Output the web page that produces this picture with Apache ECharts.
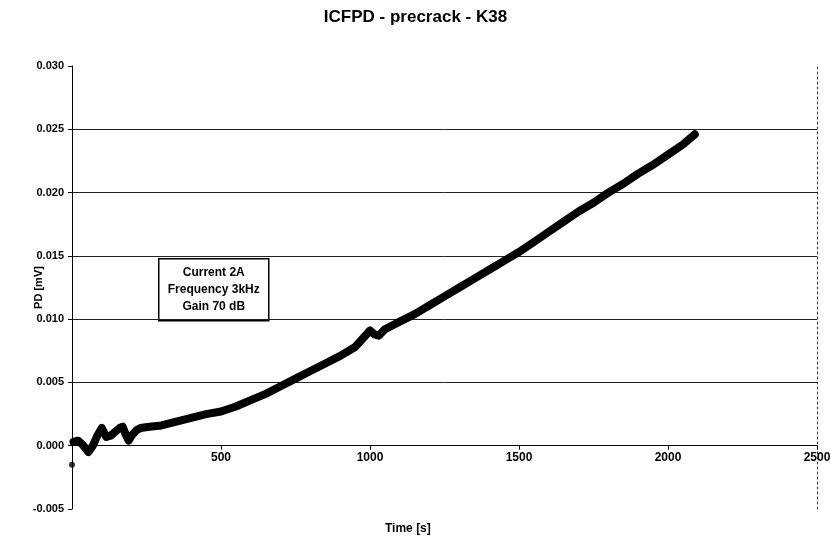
<!DOCTYPE html>
<html>
<head>
<meta charset="utf-8">
<script src="https://cdn.jsdelivr.net/npm/echarts@6/dist/echarts.min.js"></script>
<style>
  html, body { margin: 0; padding: 0; background: #fff; }
  #chart { width: 831px; height: 543px; }
</style>
</head>
<body>
<div id="chart"></div>
<script>
// Potential-drop record during precracking (time in s, PD in mV)
const firstTime = 0;
const firstPd = -0.0015;

const times = [5, 20, 35, 55, 70, 85, 100, 115, 130, 145, 160, 170, 180, 190, 200, 215, 230,
  260, 300, 350, 400, 450, 500, 550, 600, 650, 700, 750, 800, 850, 900, 950,
  1000, 1015, 1030, 1050, 1100, 1150, 1200, 1250, 1300, 1350, 1400, 1450, 1500,
  1550, 1600, 1650, 1700, 1750, 1800, 1850, 1900, 1950, 2000, 2050, 2090];
const pd = [0.0003, 0.0004, 0.0001, -0.0005, 0.0000, 0.0008, 0.0014, 0.0007, 0.0008, 0.0011, 0.0014, 0.0015, 0.0009, 0.0004, 0.0008, 0.0012, 0.0014,
  0.0015, 0.0016, 0.0019, 0.0022, 0.0025, 0.0027, 0.0031, 0.0036, 0.0041, 0.0047, 0.0053, 0.0059, 0.0065, 0.0071, 0.0078,
  0.0091, 0.0088, 0.0087, 0.0092, 0.0098, 0.0104, 0.0111, 0.0118, 0.0125, 0.0132, 0.0139, 0.0146, 0.0153,
  0.0161, 0.0169, 0.0177, 0.0185, 0.0192, 0.0200, 0.0207, 0.0215, 0.0222, 0.0230, 0.0238, 0.0246];

const xTicks = { min: 0, max: 2500, step: 500 };
const yTicks = { min: -0.005, max: 0.030, step: 0.005 };

const titleText = 'ICFPD - precrack - K38';
const xName = 'Time [s]';
const yName = 'PD [mV]';
const noteLines = ['Current 2A', 'Frequency 3kHz', 'Gain 70 dB'];

const font = 'Liberation Sans, Arial, sans-serif';

// plot area, in px
const gridBox = { left: 72, right: 14, top: 66, bottom: 34 };
const plotHeight = 543 - gridBox.top - gridBox.bottom;
// the time axis sits on PD = 0, raised from the bottom edge of the plot
const zeroRaise = plotHeight * (0 - yTicks.min) / (yTicks.max - yTicks.min);

const chart = echarts.init(document.getElementById('chart'));

chart.setOption({
  animation: false,
  backgroundColor: '#fff',
  title: {
    text: titleText,
    left: 'center',
    top: 4,
    textStyle: { fontFamily: font, fontSize: 17, fontWeight: 'bold', color: '#000' }
  },
  grid: Object.assign({ outerBoundsMode: 'none', containLabel: false }, gridBox),
  xAxis: {
    type: 'value',
    min: xTicks.min, max: xTicks.max, interval: xTicks.step,
    offset: -zeroRaise,
    axisLine: { onZero: false, lineStyle: { color: '#000', width: 1 } },
    axisTick: { show: true, length: 4, lineStyle: { color: '#000' } },
    axisLabel: {
      fontFamily: font, fontSize: 12, fontWeight: 'bold', color: '#000', margin: 6,
      formatter: v => (v === 0 ? '' : String(v))
    },
    splitLine: { show: false }
  },
  yAxis: [{
    type: 'value',
    min: yTicks.min, max: yTicks.max, interval: yTicks.step,
    name: yName,
    nameLocation: 'middle',
    nameGap: 28,
    nameMoveOverlap: false,
    nameTextStyle: { fontFamily: font, fontSize: 11, fontWeight: 'bold', color: '#000' },
    axisLine: { show: true, lineStyle: { color: '#000', width: 1 } },
    axisTick: { show: true, length: 4, lineStyle: { color: '#000' } },
    axisLabel: {
      fontFamily: font, fontSize: 11, fontWeight: 'bold', color: '#000', margin: 8,
      formatter: v => v.toFixed(3)
    },
    splitLine: { show: true, showMinLine: false, showMaxLine: false, lineStyle: { color: '#222', width: 1 } }
  }, {
    type: 'value',
    position: 'right',
    min: yTicks.min, max: yTicks.max, interval: yTicks.step,
    axisLine: { show: true, lineStyle: { color: '#333', width: 1, type: [2, 3] } },
    axisTick: { show: false },
    axisLabel: { show: false },
    splitLine: { show: false }
  }],
  graphic: [{
    type: 'text',
    left: 385,
    top: 523,
    style: { text: xName, font: 'bold 12px ' + font, fill: '#000' }
  }, {
    type: 'group',
    left: 158,
    top: 258,
    children: [{
      type: 'rect',
      shape: { x: 0, y: 0, width: 110, height: 62 },
      style: { fill: '#fff', stroke: '#000', lineWidth: 1.5 }
    }, {
      type: 'text',
      style: {
        x: 55, y: 31,
        text: noteLines.join('\n'),
        align: 'center', verticalAlign: 'middle',
        lineHeight: 17,
        font: 'bold 12px ' + font,
        fill: '#000'
      }
    }]
  }],
  series: [{
    type: 'line',
    data: times.map((t, i) => [t, pd[i]]),
    showSymbol: false,
    lineStyle: { color: '#000', width: 8, join: 'round', cap: 'round' },
    z: 5
  }, {
    type: 'scatter',
    data: [[firstTime, firstPd]],
    symbolSize: 6,
    itemStyle: { color: '#000' },
    z: 6
  }]
});
</script>
</body>
</html>
